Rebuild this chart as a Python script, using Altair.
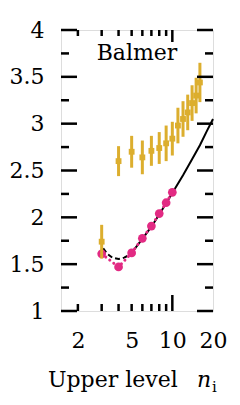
import altair as alt
import pandas as pd

# ---- data ----
n_yellow = [3, 4, 5, 6, 7, 8, 9, 10, 11, 12, 13, 14, 15, 16]
v_yellow = [1.74, 2.60, 2.70, 2.64, 2.71, 2.74, 2.79, 2.84, 2.98, 3.05, 3.12, 3.22, 3.30, 3.44]
e_yellow = [0.18, 0.16, 0.17, 0.18, 0.16, 0.17, 0.19, 0.18, 0.19, 0.19, 0.19, 0.19, 0.19, 0.21]

n_pink = [3, 4, 5, 6, 7, 8, 9, 10]
v_pink = [1.61, 1.47, 1.62, 1.776, 1.907, 2.04, 2.156, 2.267]

n_dash = [3.08, 3.3, 3.6, 4.0, 4.4, 4.85]
v_dash = [1.67, 1.61, 1.57, 1.555, 1.57, 1.60]
n_solid = [4.85, 5, 6, 7, 8, 9, 10, 12, 14, 16, 18, 20]
v_solid = [1.60, 1.62, 1.77, 1.90, 2.03, 2.15, 2.26, 2.45, 2.62, 2.77, 2.92, 3.05]

y_major = [1, 1.5, 2, 2.5, 3, 3.5, 4]
y_minor = [1.25, 1.75, 2.25, 2.75, 3.25, 3.75]
x_minor = [2, 3, 4, 5, 6, 7, 8, 9]
x_major = [10]
x_labels = [2, 5, 10, 20]

panel_label = "Balmer"
title_text = "Upper level"
title_var = "n"
title_sub = "i"

# ---- styling ----
W, H = 152, 281
FONT = "DejaVu Serif"
GOLD = "#DCAE2E"
PINK = "#E22A83"

xs = alt.Scale(type="log", domain=[1.5, 20], nice=False)
ys = alt.Scale(domain=[1, 4], nice=False, zero=False)

df_y = pd.DataFrame({"x": n_yellow, "y": v_yellow,
                     "lo": [v - e for v, e in zip(v_yellow, e_yellow)],
                     "hi": [v + e for v, e in zip(v_yellow, e_yellow)]})
df_p = pd.DataFrame({"x": n_pink, "y": v_pink})
df_d = pd.DataFrame({"x": n_dash, "y": v_dash})
df_s = pd.DataFrame({"x": n_solid, "y": v_solid})

X = alt.X("x:Q", scale=xs,
          axis=alt.Axis(values=x_labels, format="~g", ticks=False, domain=False, grid=False,
                        labelFont=FONT, labelFontSize=22, labelColor="black", labelPadding=19,
                        labelFlush=False, labelOverlap=False, labelBound=False, title=None))
Y = alt.Y("y:Q", scale=ys,
          axis=alt.Axis(values=y_major, format="~g", ticks=False, domain=False, grid=False,
                        labelFont=FONT, labelFontSize=22, labelColor="black", labelPadding=17,
                        labelFlush=False, labelOverlap=False, labelBound=False, title=None))

solid = alt.Chart(df_s).mark_line(color="black", strokeWidth=2).encode(x=X, y=Y)
dashed = alt.Chart(df_d).mark_line(color="black", strokeWidth=2, strokeDash=[5, 3]).encode(
    x=alt.X("x:Q", scale=xs), y=alt.Y("y:Q", scale=ys))
pdots = alt.Chart(df_p).mark_line(color=PINK, strokeWidth=3, strokeDash=[0.1, 5],
                                  strokeCap="round").encode(
    x=alt.X("x:Q", scale=xs), y=alt.Y("y:Q", scale=ys))
pcirc = alt.Chart(df_p).mark_circle(color=PINK, size=76, opacity=1).encode(
    x=alt.X("x:Q", scale=xs), y=alt.Y("y:Q", scale=ys))
ebars = alt.Chart(df_y).mark_rule(color=GOLD, strokeWidth=3).encode(
    x=alt.X("x:Q", scale=xs), y=alt.Y("lo:Q", scale=ys), y2="hi:Q")
squares = alt.Chart(df_y).mark_square(color=GOLD, size=34, opacity=1).encode(
    x=alt.X("x:Q", scale=xs), y=alt.Y("y:Q", scale=ys))

# inward ticks on all four sides
def yticks(vals, length):
    d = pd.DataFrame({"y": vals})
    left = alt.Chart(d).mark_rule(color="black", strokeWidth=2.5).encode(
        y=alt.Y("y:Q", scale=ys), x=alt.value(0), x2=alt.value(length))
    right = alt.Chart(d).mark_rule(color="black", strokeWidth=2.5).encode(
        y=alt.Y("y:Q", scale=ys), x=alt.value(W - length), x2=alt.value(W))
    return [left, right]

def xticks(vals, lb, lt):
    d = pd.DataFrame({"x": vals})
    bottom = alt.Chart(d).mark_rule(color="black", strokeWidth=2.5).encode(
        x=alt.X("x:Q", scale=xs), y=alt.value(H), y2=alt.value(H - lb))
    top = alt.Chart(d).mark_rule(color="black", strokeWidth=2.5).encode(
        x=alt.X("x:Q", scale=xs), y=alt.value(0), y2=alt.value(lt))
    return [bottom, top]

ticks = yticks(y_major, 16) + yticks(y_minor, 8) + xticks(x_minor, 7, 6) + xticks(x_major, 16, 12)

one = pd.DataFrame({"a": [0]})
label = alt.Chart(one).mark_text(text=panel_label, font=FONT, fontSize=22, color="black",
                                 align="center", baseline="alphabetic").encode(
    x=alt.value(76), y=alt.value(30))
t1 = alt.Chart(one).mark_text(text=title_text, font=FONT, fontSize=22, color="black",
                              align="left", baseline="alphabetic").encode(
    x=alt.value(-13), y=alt.value(357))
t3 = alt.Chart(one).mark_text(text=title_var, font=FONT, fontSize=22, fontStyle="italic",
                              color="black", align="left", baseline="alphabetic").encode(
    x=alt.value(136), y=alt.value(357))
t4 = alt.Chart(one).mark_text(text=title_sub, font=FONT, fontSize=15, color="black",
                              align="left", baseline="alphabetic").encode(
    x=alt.value(151), y=alt.value(362))

chart = alt.layer(solid, dashed, pdots, pcirc, ebars, squares, *ticks, label, t1, t3, t4).properties(
    width=W, height=H,
    autosize=alt.AutoSizeParams(type="none"),
    padding={"left": 61, "top": 30, "right": 27, "bottom": 94},
).configure_view(stroke="black", strokeWidth=3).configure(background="white", font=FONT)

chart.save("out.html", embed_options={"renderer": "svg", "actions": False})
